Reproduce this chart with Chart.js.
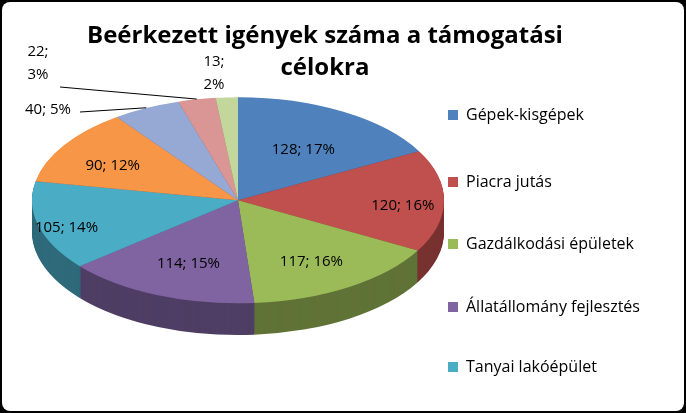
<!DOCTYPE html>
<html><head><meta charset="utf-8">
<script src="https://cdn.jsdelivr.net/npm/chart.js@4/dist/chart.umd.min.js"></script>
<style>
html,body{margin:0;padding:0;background:#000;width:686px;height:413px;overflow:hidden;font-family:"Open Sans","Liberation Sans",sans-serif}
#box{position:absolute;left:2px;top:2px;width:682px;height:409px;background:#fff;border-radius:8px}
#c{position:absolute;left:0;top:0}
#title{position:absolute;left:40px;width:570px;top:18px;text-align:center;font-weight:bold;font-size:24px;line-height:32px;color:#000;font-family:"Open Sans","Liberation Sans",sans-serif}
.lg{position:absolute;left:448px;font-size:16px;color:#000;white-space:nowrap}
.lg span{display:inline-block;width:10px;height:10px;margin-right:8px;vertical-align:0px}
</style></head><body>
<div id="box"></div>
<canvas id="c" width="686" height="413"></canvas>
<div id="title">Beérkezett igények száma a támogatási<br>célokra</div>
<div id="legend"></div>
<script>
const categories = ["Gépek-kisgépek","Piacra jutás","Gazdálkodási épületek","Állatállomány fejlesztés","Tanyai lakóépület","Egyéb 1","Egyéb 2","Egyéb 3","Egyéb 4"];
const values = [128,120,117,114,105,90,40,22,13];
const percentLabels = ["17%","16%","16%","15%","14%","12%","5%","3%","2%"];
const colors = ["#4F81BD","#C0504D","#9BBB59","#8064A2","#4BACC6","#F79646","#95A9D4","#D99694","#C3D69B"];
const legendShown = 5;

const CX=238, CY=206, TOPY=200, SY=0.5, DEPTH=32;
function shade(hex,f){const n=parseInt(hex.slice(1),16);const r=(n>>16)*f,g=((n>>8)&255)*f,b=(n&255)*f;return `rgb(${r|0},${g|0},${b|0})`;}

const legendEl=document.getElementById('legend');
const legendY=[103,170,232,295,355];
for(let i=0;i<legendShown;i++){const d=document.createElement('div');d.className='lg';d.style.top=legendY[i]+'px';d.innerHTML=`<span style="background:${colors[i]}"></span>${categories[i]}`;legendEl.appendChild(d);}

const squash={
 id:'squash',
 beforeDatasetsDraw(chart){
  const ctx=chart.ctx, els=chart.getDatasetMeta(0).data;
  ctx.save();
  for(let d=DEPTH;d>=1;d--){
   els.forEach((el,i)=>{
    ctx.save();
    ctx.translate(el.x,TOPY+d);ctx.scale(1,SY);
    ctx.beginPath();ctx.moveTo(0,0);ctx.arc(0,0,el.outerRadius,el.startAngle,el.endAngle);ctx.closePath();
    ctx.fillStyle=shade(colors[i],0.62);ctx.fill();
    ctx.restore();
   });
  }
  ctx.translate(CX,TOPY);ctx.scale(1,SY);ctx.translate(-CX,-CY);
 },
 afterDatasetsDraw(chart){
  const ctx=chart.ctx;ctx.restore();
  const els=chart.getDatasetMeta(0).data;
  ctx.font='15px "Open Sans","Liberation Sans",sans-serif';ctx.fillStyle='#000';ctx.textAlign='center';ctx.textBaseline='middle';
  const fac=[0.62,0.8,0.66,0.62,0.86,0.72];
  els.forEach((el,i)=>{
   const a=(el.startAngle+el.endAngle)/2, r=el.outerRadius;
   const ex=el.x+Math.cos(a)*r, ey=TOPY+Math.sin(a)*r*SY;
   if(i<6){
    ctx.fillText(values[i]+'; '+percentLabels[i], el.x+Math.cos(a)*r*fac[i], TOPY+Math.sin(a)*r*SY*fac[i]+5);
   } else {
    ctx.strokeStyle='#000';ctx.lineWidth=1;ctx.beginPath();
    if(i===6){ctx.moveTo(ex,ey);ctx.lineTo(80,112);ctx.stroke();ctx.fillText(values[i]+'; '+percentLabels[i],48,110);}
    if(i===7){ctx.moveTo(ex,ey);ctx.lineTo(60,87);ctx.stroke();ctx.fillText(values[i]+';',38,52);ctx.fillText(percentLabels[i],38,75);}
    if(i===8){ctx.fillText(values[i]+';',214,62);ctx.fillText(percentLabels[i],214,85);}
   }
  });
 }
};

new Chart(document.getElementById('c'),{
 type:'pie',
 data:{labels:categories,datasets:[{data:values,backgroundColor:colors,borderWidth:0}]},
 options:{responsive:false,animation:false,
  layout:{padding:{left:CX-206,right:686-CX-206,top:0,bottom:0}},
  plugins:{legend:{display:false},tooltip:{enabled:false}}},
 plugins:[squash]
});
</script>
</body></html>
